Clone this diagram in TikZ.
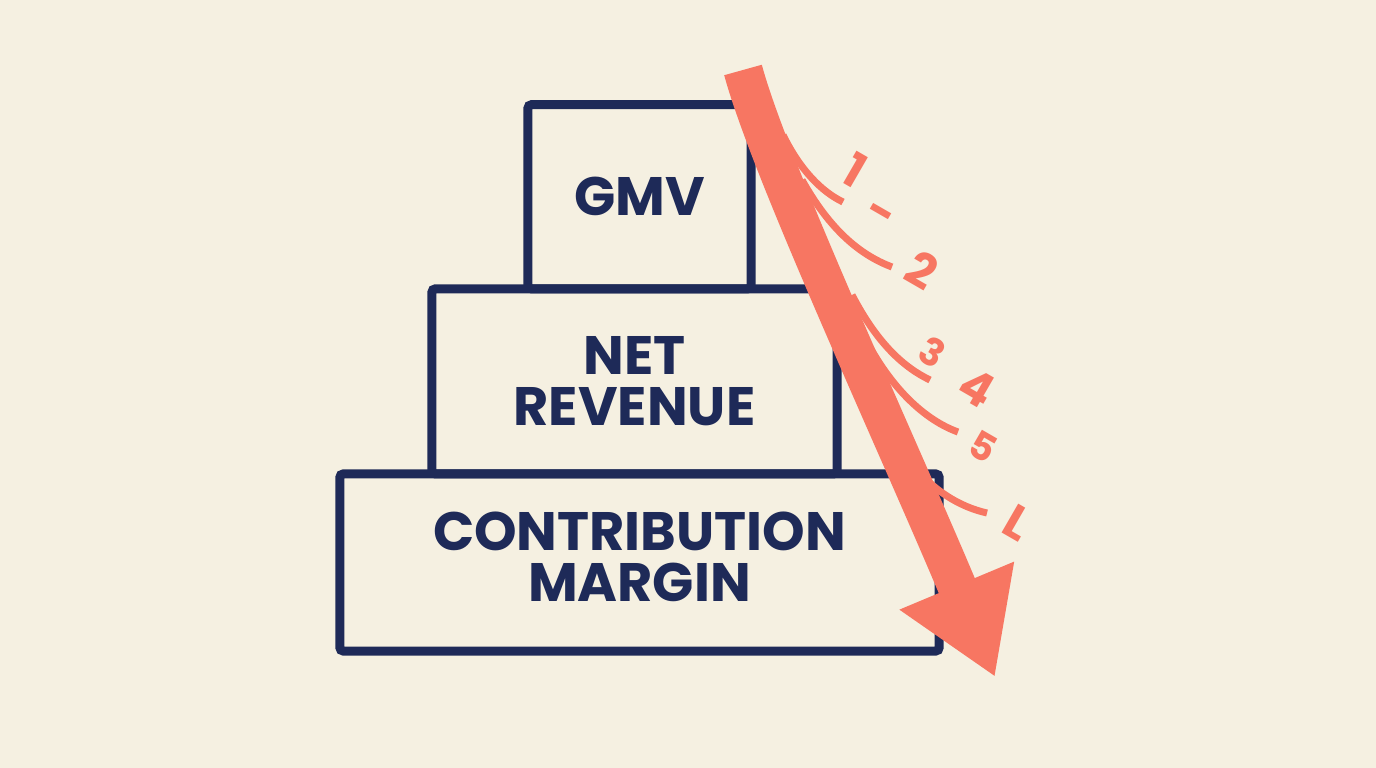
\documentclass[tikz,border=0pt]{standalone}
\usepackage{fontspec}
\setmainfont{Poppins}
\usetikzlibrary{positioning,arrows.meta}
\definecolor{cream}{RGB}{245,240,225}
\definecolor{navy}{RGB}{30,42,88}
\definecolor{salmon}{RGB}{247,118,98}

\begin{document}
\begin{tikzpicture}[
  x=0.01cm, y=-0.01cm,
  tier/.style={rectangle, draw=navy, line width=0.09cm, rounded corners=1pt,
    outer sep=0pt, inner sep=0pt, align=center, text=navy,
    font=\bfseries\fontsize{15.4}{14.5}\selectfont},
  branch/.style={draw=salmon, line width=0.07cm},
  tag/.style={text=salmon, rotate=-30, font=\bfseries\fontsize{13.5}{13.5}\selectfont}
]
\fill[cream] (0,0) rectangle (1376,768);
\useasboundingbox (0,0) rectangle (1376,768);

% stacked tiers
\node[tier, minimum width=5.99cm, minimum height=1.77cm, text depth=0.12cm] (cm) at (639.5,562.5) {CONTRIBUTION\\MARGIN};
\node[tier, above=0pt of cm, xshift=-0.05cm, minimum width=4.05cm, minimum height=1.85cm] (nr) {NET\\REVENUE};
\node[tier, above=0pt of nr, xshift=0.05cm, minimum width=2.23cm, minimum height=1.84cm] (gmv) {GMV};

% small offshoots of the drop
\draw[branch] (783,135) .. controls (800,170) and (822,192) .. (843,202);
\draw[branch] (802,180) .. controls (830,230) and (860,255) .. (892,267);
\draw[branch] (852,295) .. controls (878,345) and (905,368) .. (930,380);
\draw[branch] (866,340) .. controls (895,395) and (930,422) .. (958,432);
\draw[branch] (905,455) .. controls (930,490) and (960,507) .. (987,513);

% the drop
\coordinate (top) at (743,70);
\coordinate (tip) at (995,677);
\draw[salmon, line width=0.39cm, -{Triangle[width=1.17cm,length=0.99cm]}] (top) .. controls (770,170) and (900,450) .. (tip);

\node[tag] (t1) at (855,170) {1};
\node[tag] (t1b) at (878,218) {-};
\node[tag] (t2) at (922,270) {2};
\node[tag, scale=0.8] (t3) at (932,352) {3};
\node[tag] (t4) at (977,388) {4};
\node[tag, scale=0.8] (t5) at (983,447) {5};
\node[tag] (t6) at (1018,523) {L};
\end{tikzpicture}
\end{document}
